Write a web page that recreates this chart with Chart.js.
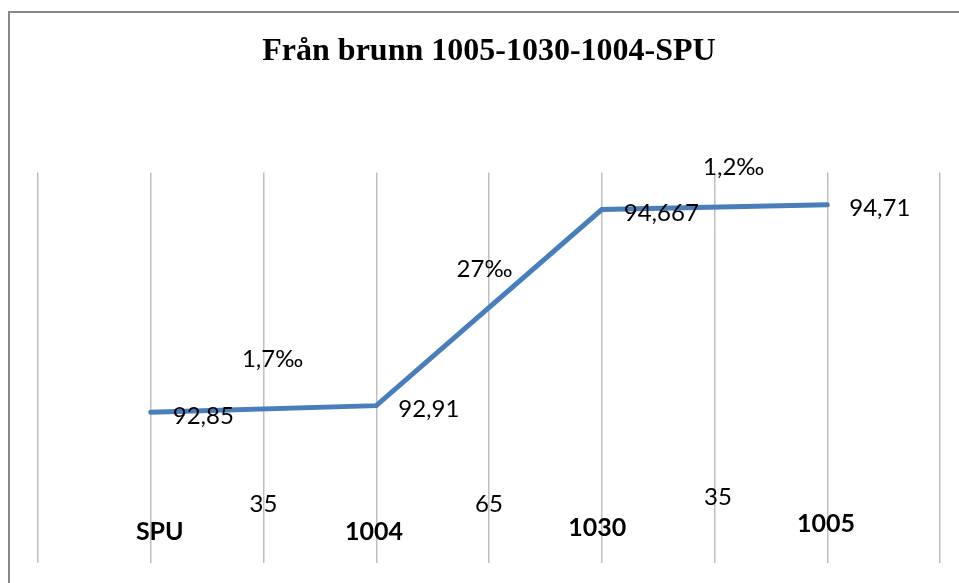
<!DOCTYPE html>
<html>
<head>
<meta charset="utf-8">
<script src="https://cdn.jsdelivr.net/npm/chart.js@4.4.1/dist/chart.umd.min.js"></script>
<style>
  html, body { margin: 0; padding: 0; background: #fff; }
  #wrap { position: relative; width: 959px; height: 583px; }
  #frame { position: absolute; left: 8px; top: 11px; right: 0; bottom: 0; border-top: 2px solid #878787; border-left: 2px solid #878787; pointer-events: none; }
</style>
</head>
<body>
<div id="wrap">
  <canvas id="chart" width="959" height="583"></canvas>
  <div id="frame"></div>
</div>
<script>
// Stations along the pipe (x in grid steps, y = elevation)
const stations = ['SPU', '1004', '1030', '1005'];
const stationX = [1, 3, 5, 7];
const elevations = [92.85, 92.91, 94.667, 94.71];
const elevationLabels = ['92,85', '92,91', '94,667', '94,71'];

// Station name labels under the line
const stationLabelX = [1.08, 2.98, 4.96, 6.99];
const stationLabelY = [91.78, 91.78, 91.81, 91.85];

// Pipe lengths between stations
const distances = ['35', '65', '35'];
const distanceX = [2, 4, 6.03];
const distanceY = [92.03, 92.03, 92.09];

// Slopes between stations
const slopes = ['1,7‰', '27‰', '1,2‰'];
const slopeX = [2.08, 3.96, 6.17];
const slopeY = [93.33, 94.13, 95.05];

const labelFont = '24px Lato, "Open Sans", sans-serif';
const boldFont = 'bold 25px Lato, "Open Sans", sans-serif';

const labelsPlugin = {
  id: 'pipeLabels',
  afterDatasetsDraw(chart) {
    const ctx = chart.ctx;
    const xs = chart.scales.x, ys = chart.scales.y;
    ctx.save();
    ctx.fillStyle = '#000';
    ctx.textBaseline = 'middle';

    ctx.font = labelFont;
    ctx.textAlign = 'left';
    elevations.forEach((v, i) => {
      ctx.fillText(elevationLabels[i], xs.getPixelForValue(stationX[i]) + 22, ys.getPixelForValue(v) + 4);
    });

    ctx.textAlign = 'center';
    distances.forEach((t, i) => {
      ctx.fillText(t, xs.getPixelForValue(distanceX[i]), ys.getPixelForValue(distanceY[i]));
    });
    slopes.forEach((t, i) => {
      ctx.fillText(t, xs.getPixelForValue(slopeX[i]), ys.getPixelForValue(slopeY[i]));
    });

    ctx.font = boldFont;
    stations.forEach((t, i) => {
      ctx.fillText(t, xs.getPixelForValue(stationLabelX[i]), ys.getPixelForValue(stationLabelY[i]));
    });
    ctx.restore();
  }
};

new Chart(document.getElementById('chart'), {
  type: 'scatter',
  data: {
    datasets: [{
      label: 'Nivå',
      data: stationX.map((x, i) => ({ x: x, y: elevations[i] })),
      showLine: true,
      borderColor: '#4a7ebb',
      borderWidth: 5,
      borderCapStyle: 'round',
      borderJoinStyle: 'miter',
      pointRadius: 0,
      tension: 0
    }]
  },
  options: {
    responsive: false,
    animation: false,
    layout: { padding: { left: 38, right: 19, top: 12, bottom: 20 } },
    plugins: {
      legend: { display: false },
      tooltip: { enabled: false },
      title: {
        display: true,
        text: 'Från brunn 1005-1030-1004-SPU',
        color: '#000',
        font: { family: '"Liberation Serif", "Times New Roman", serif', size: 32, weight: 'bold' },
        padding: { top: 21, bottom: 101 }
      }
    },
    scales: {
      x: {
        type: 'linear',
        min: 0,
        max: 8,
        ticks: { display: false, stepSize: 1 },
        grid: { color: '#bfbfbf', lineWidth: 1.5, drawTicks: false },
        border: { display: false }
      },
      y: {
        display: false,
        min: 91.5,
        max: 95
      }
    }
  },
  plugins: [labelsPlugin]
});
</script>
</body>
</html>
